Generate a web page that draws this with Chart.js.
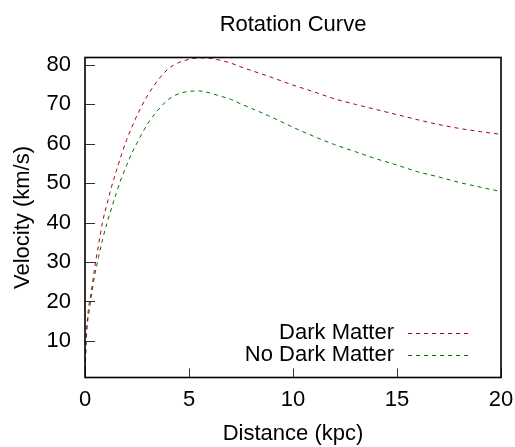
<!DOCTYPE html>
<html>
<head>
<meta charset="utf-8">
<script src="https://cdn.jsdelivr.net/npm/chart.js@4.4.1/dist/chart.umd.min.js"></script>
<style>
  html, body { margin: 0; padding: 0; background: #fff; }
  #wrap { width: 515px; height: 447px; }
</style>
</head>
<body>
<div id="wrap"><canvas id="rotationChart"></canvas></div>
<script>
// ## ROTATION CURVE ##

const distance = [0, 0.05, 0.1, 0.2, 0.3, 0.45, 0.65, 0.85, 1.05, 1.25, 1.5, 1.75, 2, 2.25, 2.5, 2.75, 3, 3.5, 4, 4.5, 5, 5.5, 6, 6.5, 7, 7.5, 8, 9, 10, 11, 12, 13, 14, 15, 16, 17, 18, 19, 20];

const darkMatter = [0.7, 10, 14.5, 19.5, 22.3, 28, 34.3, 40.3, 44.5, 48.6, 53, 57.2, 61, 64.2, 67.2, 69.8, 72.2, 76.1, 79, 80.6, 81.4, 81.8, 81.7, 81.2, 80.5, 79.5, 78.6, 76.8, 74.9, 73.2, 71.4, 70.0, 68.7, 67.4, 66.1, 64.9, 63.9, 63.1, 62.4];

const noDarkMatter = [0.7, 9.2, 13.5, 17.5, 21.2, 26.2, 31.2, 35.8, 39.8, 43.2, 47.4, 51.3, 54.5, 57.6, 60.2, 62.7, 65, 68.5, 71.2, 72.7, 73.3, 73.4, 72.9, 72.1, 71.3, 70.1, 69.0, 66.7, 64.2, 61.9, 59.8, 58.0, 56.2, 54.6, 52.9, 51.6, 50.2, 49.0, 47.9];

const xTicks = [0, 5, 10, 15, 20];
const yTicks = [10, 20, 30, 40, 50, 60, 70, 80];

const labels = ["Dark Matter", "No Dark Matter"];
const colors = ["#a8001a", "#007000"];

const FONT = "'Liberation Sans', Arial, Helvetica, sans-serif";

function toPoints(ys) {
  return distance.map((d, i) => ({ x: d, y: ys[i] }));
}

// title over the plot box, frame, inward ticks and gnuplot-style key
const framePlugin = {
  id: "frame",
  afterDatasetsDraw(chart) {
    const ctx = chart.ctx;
    const area = chart.chartArea;
    const xs = chart.scales.x;
    const ys = chart.scales.y;
    ctx.save();
    ctx.strokeStyle = "#333";
    ctx.lineWidth = 1;
    ctx.beginPath();
    yTicks.forEach((v) => {
      const py = Math.round(ys.getPixelForValue(v)) + 0.5;
      ctx.moveTo(area.left, py);
      ctx.lineTo(area.left + 10, py);
    });
    xTicks.forEach((v) => {
      const px = Math.round(xs.getPixelForValue(v)) + 0.5;
      ctx.moveTo(px, area.bottom);
      ctx.lineTo(px, area.bottom - 9);
    });
    ctx.stroke();

    ctx.strokeStyle = "#000";
    ctx.lineWidth = 1.6;
    ctx.strokeRect(area.left, area.top, area.right - area.left, area.bottom - area.top);

    ctx.font = "22px " + FONT;
    ctx.fillStyle = "#000";
    ctx.textBaseline = "middle";
    ctx.textAlign = "center";
    ctx.fillText("Rotation Curve", (area.left + area.right) / 2, 25);

    // key
    ctx.textAlign = "right";
    chart.data.datasets.forEach((ds, i) => {
      const y = 333 + i * 22;
      ctx.fillText(ds.label, 394, y);
      ctx.strokeStyle = ds.borderColor;
      ctx.lineWidth = 1;
      ctx.setLineDash([4, 4]);
      ctx.beginPath();
      ctx.moveTo(408, y + 0.5);
      ctx.lineTo(471, y + 0.5);
      ctx.stroke();
      ctx.setLineDash([]);
    });
    ctx.restore();
  },
};

const ctx = document.getElementById("rotationChart").getContext("2d");

window.rotationChart = new Chart(ctx, {
  type: "scatter",
  data: {
    datasets: [
      {
        label: labels[0],
        data: toPoints(darkMatter),
        borderColor: colors[0],
        backgroundColor: colors[0],
        borderWidth: 1,
        borderDash: [4, 4],
        showLine: true,
        pointRadius: 0,
        cubicInterpolationMode: "monotone",
      },
      {
        label: labels[1],
        data: toPoints(noDarkMatter),
        borderColor: colors[1],
        backgroundColor: colors[1],
        borderWidth: 1,
        borderDash: [4, 4],
        showLine: true,
        pointRadius: 0,
        cubicInterpolationMode: "monotone",
      },
    ],
  },
  options: {
    responsive: true,
    maintainAspectRatio: false,
    animation: false,
    layout: { padding: { left: 0, right: 14, top: 57.5, bottom: 0 } },
    plugins: {
      legend: { display: false },
      tooltip: { enabled: false },
      title: { display: false },
    },
    scales: {
      x: {
        type: "linear",
        min: 0,
        max: 20,
        afterBuildTicks: (scale) => {
          scale.ticks = xTicks.map((v) => ({ value: v }));
        },
        afterFit: (scale) => {
          scale.height = 69.5;
          scale.paddingLeft = 0;
          scale.paddingRight = 0;
        },
        ticks: {
          color: "#000",
          padding: 9,
          maxRotation: 0,
          font: { family: FONT, size: 22 },
        },
        grid: { display: false, drawTicks: false },
        border: { display: false },
        title: {
          display: true,
          text: "Distance (kpc)",
          color: "#000",
          font: { family: FONT, size: 22 },
          padding: { top: 0, bottom: 0 },
        },
      },
      y: {
        type: "linear",
        min: 0.7,
        max: 81.9,
        afterBuildTicks: (scale) => {
          scale.ticks = yTicks.map((v) => ({ value: v }));
        },
        afterFit: (scale) => {
          scale.width = 85;
          scale.paddingTop = 0;
          scale.paddingBottom = 0;
        },
        ticks: {
          color: "#000",
          padding: 14,
          font: { family: FONT, size: 22 },
        },
        grid: { display: false, drawTicks: false },
        border: { display: false },
        title: {
          display: true,
          text: "Velocity (km/s)",
          color: "#000",
          font: { family: FONT, size: 22 },
          padding: { top: 10, bottom: 0 },
        },
      },
    },
  },
  plugins: [framePlugin],
});
</script>
</body>
</html>
